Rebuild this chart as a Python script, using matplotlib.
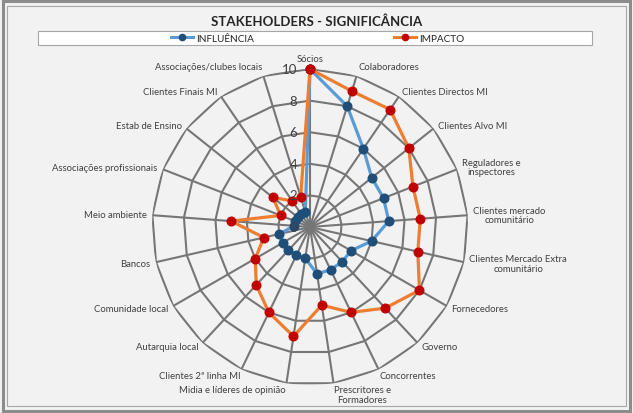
import numpy as np
import matplotlib
matplotlib.use("Agg")
import matplotlib.pyplot as plt
from matplotlib.patches import Rectangle
from matplotlib.lines import Line2D

plt.rcParams['font.family'] = ['Lato', 'DejaVu Sans']

# stakeholders, clockwise from the top
categories = ['Sócios', 'Colaboradores', 'Clientes Directos MI', 'Clientes Alvo MI',
              'Reguladores e\ninspectores', 'Clientes mercado\ncomunitário',
              'Clientes Mercado Extra\ncomunitário', 'Fornecedores', 'Governo',
              'Concorrentes', 'Prescritores e\nFormadores', 'Midia e líderes de opinião',
              'Clientes 2ª linha MI', 'Autarquia local', 'Comunidade local', 'Bancos',
              'Meio ambiente', 'Associações profissionais', 'Estab de Ensino',
              'Clientes Finais MI', 'Associações/clubes locais']
influencia = [10, 8, 6, 5, 5, 5, 4, 3, 3, 3, 3, 2, 2, 2, 2, 2, 1, 1, 1, 1, 1]
impacto = [10, 9, 9, 8, 7, 7, 7, 8, 7, 6, 5, 7, 6, 5, 4, 3, 5, 2, 3, 2, 2]
rings = [2, 4, 6, 8, 10]
tick_labels = [0, 2, 4, 6, 8, 10]

grid_col = '#767676'
blue_line, blue_mark = '#5B9BD5', '#1F4E79'
red_line, red_mark = '#ED7D31', '#C00000'

fig = plt.figure(figsize=(6.33, 4.14), dpi=100)
fig.patch.set_facecolor('#F2F2F2')

# outer frame
fig.add_artist(Rectangle((0.004, 0.006), 0.992, 0.988, transform=fig.transFigure,
                         fill=False, edgecolor='#8C8C8C', linewidth=2.2))
fig.add_artist(Rectangle((0.011, 0.016), 0.978, 0.968, transform=fig.transFigure,
                         fill=False, edgecolor='#A6A6A6', linewidth=0.8))

fig.text(0.5, 0.948, 'STAKEHOLDERS - SIGNIFICÂNCIA', ha='center', va='center',
         fontsize=9.5, fontweight='bold', color='#262626')

# legend box
fig.add_artist(Rectangle((38 / 633, 1 - 46 / 414), 554 / 633, 14 / 414,
                         transform=fig.transFigure, facecolor='white',
                         edgecolor='#A6A6A6', linewidth=0.8))
handles = [Line2D([], [], color=blue_line, lw=2.2, marker='o', ms=4.5,
                  mfc=blue_mark, mec=blue_mark),
           Line2D([], [], color=red_line, lw=2.2, marker='o', ms=4.5,
                  mfc=red_mark, mec=red_mark)]
fig.legend(handles, ['INFLUÊNCIA', 'IMPACTO'], loc='center',
           bbox_to_anchor=(318 / 633, 1 - 39 / 414), ncol=2, frameon=False,
           fontsize=7.2, columnspacing=14, handlelength=2.2, handletextpad=0.3,
           labelcolor='#262626')

ax = fig.add_axes([0.2401, 0.0676, 0.4992, 0.7633], projection='polar')
ax.set_facecolor('none')
ax.set_theta_zero_location('N')
ax.set_theta_direction(-1)
ax.set_ylim(0, 10)
ax.set_xticks([])
ax.set_yticks([])
ax.grid(False)
ax.spines['polar'].set_visible(False)

n = len(categories)
theta = np.arange(n) * 2 * np.pi / n
closed = np.append(theta, theta[0])

for r in rings:
    ax.plot(closed, [r] * (n + 1), color=grid_col, lw=1.5, zorder=1)
for t in theta:
    ax.plot([t, t], [0, 10], color=grid_col, lw=1.5, zorder=1)

ax.plot(closed, influencia + influencia[:1], color=blue_line, lw=2.3, marker='o',
        ms=6.2, mfc=blue_mark, mec=blue_mark, zorder=3, clip_on=False)
ax.plot(closed, impacto + impacto[:1], color=red_line, lw=2.3, marker='o',
        ms=6.2, mfc=red_mark, mec=red_mark, zorder=4, clip_on=False)

for v in tick_labels:
    ax.annotate(str(v), (0, v), xytext=(-9, 0), textcoords='offset points',
                ha='right', va='center', fontsize=9.5, color='#404040', zorder=5)

for t, lab in zip(theta, categories):
    s, c = np.sin(t), np.cos(t)
    ha = 'left' if s > 0.1 else ('right' if s < -0.1 else 'center')
    va = 'bottom' if c > 0.9 else ('top' if c < -0.9 else 'center')
    off = 1.5 if c < -0.9 else 4
    ax.annotate(lab, (t, 10), xytext=(off * s, off * c), textcoords='offset points',
                ha=ha, va=va, fontsize=6.8, color='#404040', multialignment='center',
                linespacing=1.05, annotation_clip=False)

fig.savefig('out.png', dpi=100, facecolor=fig.get_facecolor())
